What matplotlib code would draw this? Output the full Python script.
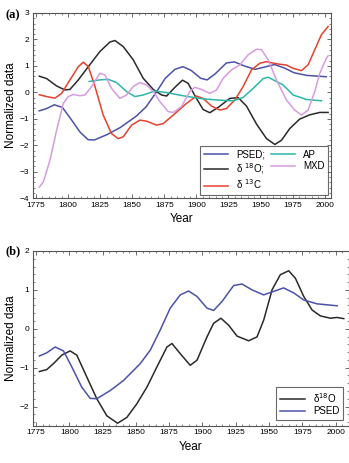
import numpy as np
import matplotlib.pyplot as plt
from matplotlib.ticker import MultipleLocator

plt.rcParams["font.family"] = ["Liberation Sans", "DejaVu Sans"]

# ---- panel (a) data --------------------------------------------------
psed_year = [1777.5, 1783, 1789.3, 1795.6, 1801.8, 1809.3, 1815.6, 1820.6, 1830.7,
             1840.7, 1853.2, 1860.8, 1868.3, 1875.8, 1883.3, 1889.6, 1895.9, 1903.4,
             1908.4, 1914.7, 1923.4, 1929.7, 1937.2, 1946, 1953.5, 1961, 1968.6,
             1976.1, 1986.1, 2001.2]
psed_val = [-0.70, -0.62, -0.47, -0.57, -0.98, -1.50, -1.79, -1.80, -1.59,
            -1.33, -0.90, -0.55, -0.03, 0.53, 0.87, 0.97, 0.83, 0.53,
            0.47, 0.70, 1.11, 1.15, 1.00, 0.87, 0.96, 1.05, 0.92,
            0.74, 0.64, 0.59]

o18a_year = [1777.6, 1783.3, 1791.1, 1797.6, 1801.5, 1808, 1815.8, 1824.8, 1832.6,
             1836.5, 1843, 1850.8, 1858.6, 1866.4, 1872.9, 1876.8, 1883.3, 1889.2,
             1893.6, 1900.1, 1905.3, 1910.5, 1917, 1926.1, 1932.6, 1939.1, 1946.9,
             1954.7, 1961.2, 1966.4, 1972.8, 1980.6, 1988.4, 1996.2, 2002.7]
o18a_val = [0.61, 0.52, 0.24, 0.09, 0.11, 0.47, 0.97, 1.54, 1.90,
            1.96, 1.73, 1.23, 0.53, 0.11, -0.10, -0.14, 0.19, 0.46,
            0.34, -0.23, -0.65, -0.77, -0.57, -0.23, -0.20, -0.52, -1.20,
            -1.75, -1.97, -1.81, -1.37, -1.01, -0.85, -0.76, -0.76]

c13_year = [1777.6, 1783.3, 1789.8, 1795, 1801.5, 1808, 1811.9, 1815.8, 1821,
            1827.4, 1833.9, 1839.1, 1843, 1849.5, 1856, 1861.2, 1869, 1874.2,
            1882, 1892.3, 1900.1, 1905.3, 1911.8, 1918.3, 1923.5, 1930, 1936.5,
            1943, 1949.5, 1954.7, 1962.4, 1970.2, 1975.4, 1981.9, 1987.1, 1992.3,
            1997.5, 2002.7]
c13_val = [-0.09, -0.16, -0.22, -0.04, 0.47, 0.97, 1.14, 0.97, 0.22,
           -0.86, -1.56, -1.75, -1.68, -1.24, -1.05, -1.09, -1.24, -1.18,
           -0.86, -0.42, -0.14, -0.23, -0.52, -0.67, -0.61, -0.29, 0.22,
           0.85, 1.10, 1.16, 1.08, 1.03, 0.91, 0.82, 1.04, 1.61,
           2.18, 2.49]

ap_year = [1816.5, 1824.8, 1831.3, 1837.8, 1845.6, 1852.1, 1858.6, 1867.7, 1876.8,
           1889.7, 1902.7, 1915.7, 1928.7, 1936.5, 1944.3, 1952.1, 1956, 1962.4,
           1967.6, 1975.4, 1985.8, 1997.5]
ap_val = [0.41, 0.47, 0.49, 0.37, 0.03, -0.16, -0.10, 0.05, -0.01,
          -0.13, -0.23, -0.29, -0.32, -0.19, 0.15, 0.52, 0.57, 0.41,
          0.28, -0.10, -0.27, -0.32]

mxd_year = [1777.6, 1780.7, 1785.9, 1791.1, 1796.3, 1800.2, 1804.1, 1809.3, 1813.2,
            1818.4, 1824.8, 1828.7, 1833.9, 1840.4, 1845.6, 1850.8, 1856, 1861.2,
            1866.4, 1871.6, 1878.1, 1882, 1888.4, 1894.9, 1898.8, 1904, 1910.5,
            1915.7, 1920.9, 1927.4, 1933.9, 1940.4, 1946.9, 1950.8, 1956, 1962.4,
            1970.2, 1976.7, 1981.9, 1987.1, 1992.3, 1996.2, 2001.4, 2002.7]
mxd_val = [-3.58, -3.39, -2.57, -1.43, -0.42, -0.16, -0.08, -0.13, -0.10,
           0.22, 0.72, 0.66, 0.15, -0.23, -0.10, 0.22, 0.37, 0.28,
           0.03, -0.35, -0.73, -0.76, -0.54, 0.03, 0.19, 0.11, -0.04,
           0.09, 0.53, 0.85, 1.04, 1.42, 1.63, 1.61, 1.23, 0.47,
           -0.29, -0.67, -0.86, -0.67, 0.03, 0.72, 1.29, 1.38]

# ---- panel (b) data --------------------------------------------------
o18b_year = [1777.5, 1783, 1788, 1794.3, 1800.6, 1805.6, 1813.1, 1820.6, 1828.2,
             1836.2, 1843.2, 1850.7, 1858.3, 1865.8, 1873.3, 1877.1, 1883.3, 1890.8,
             1895.9, 1903.4, 1908.4, 1913.9, 1919.7, 1926, 1934.7, 1941, 1946,
             1952.3, 1958.5, 1964.8, 1969.8, 1976.1, 1982.4, 1988.6, 1996.1, 2001.2,
             2006.2]
o18b_val = [-1.10, -1.05, -0.90, -0.68, -0.57, -0.68, -1.24, -1.80, -2.24,
            -2.43, -2.28, -1.93, -1.50, -0.98, -0.47, -0.38, -0.64, -0.94,
            -0.81, -0.21, 0.14, 0.27, 0.09, -0.19, -0.31, -0.21, 0.22,
            1.00, 1.39, 1.49, 1.30, 0.83, 0.48, 0.33, 0.27, 0.29,
            0.26]

C_BLUE = "#4b52a8"
C_BLACK = "#2a2a2a"
C_RED = "#e5412d"
C_CYAN = "#2bb7a8"
C_PINK = "#d79be0"
FRAME = "#555555"


def style_axes(ax, ylo, yhi, xhi, yminor):
    ax.set_xlim(1772.7, xhi)
    ax.set_ylim(ylo, yhi)
    ax.xaxis.set_major_locator(MultipleLocator(25))
    ax.xaxis.set_minor_locator(MultipleLocator(5))
    ax.yaxis.set_major_locator(MultipleLocator(1))
    ax.yaxis.set_minor_locator(MultipleLocator(yminor))
    ax.tick_params(which="both", direction="in", top=True, right=True,
                   labelsize=6, color=FRAME, pad=2.5)
    ax.tick_params(which="major", length=3, width=0.6)
    ax.tick_params(which="minor", length=1.5, width=0.5)
    for s in ax.spines.values():
        s.set_color(FRAME)
        s.set_linewidth(0.8)
    ax.set_xlabel("Year", fontsize=8.5, labelpad=3)
    ax.set_ylabel("Normalized data", fontsize=8.5, labelpad=2)


fig = plt.figure(figsize=(3.49, 4.63), dpi=100)

# ---- (a) --------------------------------------------------------------
ax1 = fig.add_axes([0.0946, 0.572, 0.854, 0.400])
ax1.plot(psed_year, psed_val, color=C_BLUE, lw=1.1, label="PSED;")
ax1.plot(o18a_year, o18a_val, color=C_BLACK, lw=1.1, label="δ $^{18}$O;")
ax1.plot(c13_year, c13_val, color=C_RED, lw=1.1, label="δ $^{13}$C")
ax1.plot(ap_year, ap_val, color=C_CYAN, lw=1.1, label="AP")
ax1.plot(mxd_year, mxd_val, color=C_PINK, lw=1.1, label="MXD")
style_axes(ax1, -4, 3, 2005, 0.2)
leg1 = ax1.legend(loc="lower right", ncol=2, fontsize=7, frameon=True,
                  fancybox=False, edgecolor="#444444", handlelength=2.5,
                  columnspacing=0.6, handletextpad=0.8, labelspacing=0.15,
                  borderpad=0.4, borderaxespad=0.3)
leg1.get_frame().set_linewidth(0.8)
fig.text(0.015, 0.968, "(a)", fontsize=9, fontweight="bold",
         family=["Liberation Serif", "DejaVu Serif"], va="center")

# ---- (b) --------------------------------------------------------------
ax2 = fig.add_axes([0.0946, 0.080, 0.905, 0.378])
ax2.plot(o18b_year, o18b_val, color=C_BLACK, lw=1.1, label="δ$^{18}$O")
ax2.plot(psed_year, psed_val, color=C_BLUE, lw=1.1, label="PSED")
style_axes(ax2, -2.5, 2, 2010, 0.2)
leg2 = ax2.legend(loc="lower right", fontsize=7, frameon=True,
                  fancybox=False, edgecolor="#444444", handlelength=2.6,
                  handletextpad=0.8, labelspacing=0.15, borderpad=0.4,
                  borderaxespad=0.6)
leg2.get_frame().set_linewidth(0.8)
fig.text(0.015, 0.457, "(b)", fontsize=9, fontweight="bold",
         family=["Liberation Serif", "DejaVu Serif"], va="center")

plt.savefig("out.png", dpi=100)
